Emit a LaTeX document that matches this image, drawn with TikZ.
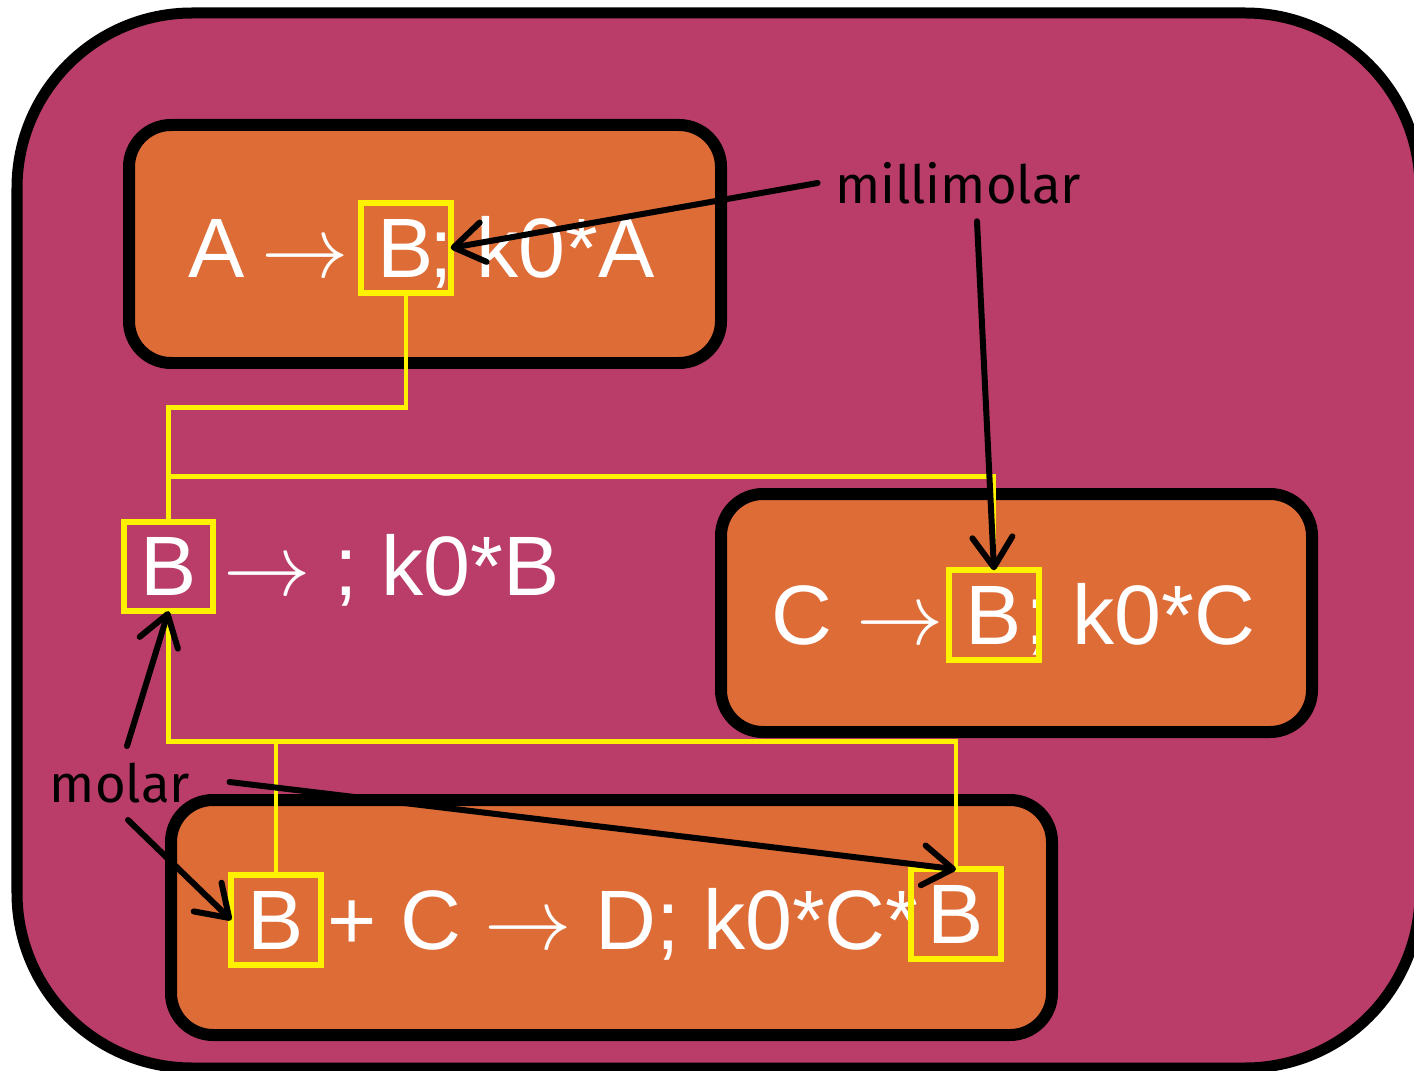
\documentclass[tikz,border=0pt]{standalone}
\usepackage{fontspec}
\setmainfont{Liberation Sans}
\newfontfamily\unitfont{Fira Sans}
\usetikzlibrary{positioning,arrows.meta}
\definecolor{compcol}{RGB}{185,61,104}
\definecolor{reaccol}{RGB}{222,108,55}

\begin{document}
\begin{tikzpicture}[
	reac/.style={draw=black,line width=0.12cm,fill=reaccol,rounded corners=0.42cm},
	spec/.style={minimum size=0.88cm,inner sep=0pt,text=white,font=\fontsize{24}{28}\selectfont},
	rtext/.style={text=white,inner sep=0pt,font=\fontsize{24}{28}\selectfont},
	unit/.style={font=\unitfont\fontsize{15}{18}\selectfont},
	link/.style={yellow,line width=0.045cm},
	note/.style={line width=0.06cm,line cap=round,-{Straight Barb[length=0.3cm,width=0.4cm,round]}}]
	\useasboundingbox (0,0) rectangle (14.14,10.70);
	% compartment
	\path (0.17,0.02) coordinate (C1) (14.20,10.57) coordinate (C2);
	\draw[line width=0.11cm,fill=compcol,rounded corners=1.75cm] (C1) rectangle (C2);
	% reactions
	\draw[reac] (1.29,7.07) rectangle (7.21,9.45);
	\draw[reac] (7.21,3.38) rectangle (13.12,5.76);
	\draw[reac] (1.71,0.35) rectangle (10.52,2.70);
	% species B
	\node[spec] (b1) at (4.06,8.22) {B};
	\node[spec] (b2) at (1.685,5.035) {B};
	\node[spec] (b3) at (9.94,4.55) {B};
	\node[spec] (bl) at (2.76,1.50) {B};
	\node[spec] (br) at (9.56,1.56) {B};
	\node[rtext,base left=0.12cm of b1] {A\hspace{0.2em}$\rightarrow$};
	\node[rtext,base right=-0.22cm of b1] {; k0*A};
	\node[rtext,base right=0.1cm of b2] {$\rightarrow$ ; k0*B};
	\node[rtext,base left=0.05cm of b3] {C $\rightarrow$};
	\node[rtext,base right=-0.14cm of b3] {; k0*C};
	\node[rtext,base right=0.06cm of bl] {+ C $\rightarrow$ D; k0*C*};
	\foreach \s in {b1,b2,b3,bl,br}
		\draw[yellow,line width=0.06cm] (\s.south west) rectangle (\s.north east);
	% same species links
	\draw[link] (b1.south) -- ++(0,-1.15) -| (b2.north);
	\draw[link] (b2.north) -- ++(0,0.455) -| (b3.north);
	\draw[link] (b2.south) -- ++(0,-1.305) coordinate (j) -| (br.north);
	\draw[link] (j -| bl.north) -- (bl.north);
	% units
	\node[unit] (mm) at (9.58,8.87) {millimolar};
	\node[unit] (ml) at (1.20,2.865) {molar};
	\draw[note] ([xshift=-0.05cm]mm.west) -- (b1.east);
	\draw[note] ([shift={(0.19,-0.05)}]mm.south) -- (b3.north);
	\draw[note] ([shift={(0.07,0.05)}]ml.north) -- (b2.south);
	\draw[note] ([shift={(0.08,-0.04)}]ml.south) -- (bl.west);
	\draw[note] ([shift={(0.27,0.015)}]ml.east) -- (br.north);
\end{tikzpicture}
\end{document}
